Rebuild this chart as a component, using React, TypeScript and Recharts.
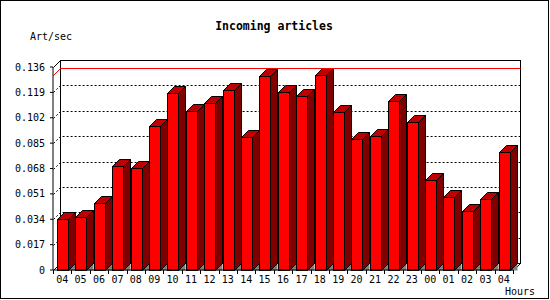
import { BarChart, Bar, XAxis, YAxis, CartesianGrid, ReferenceLine } from "recharts";

// hour of day, oldest first (the first and last "04" are different days)
const hours = [
  "04", "05", "06", "07", "08", "09", "10", "11", "12", "13", "14", "15", "16",
  "17", "18", "19", "20", "21", "22", "23", "00", "01", "02", "03", "04"
];

// incoming articles per second
const artPerSec = [
  0.034, 0.0353, 0.0447, 0.0695, 0.0681, 0.0963, 0.1184, 0.1063, 0.1117, 0.1204,
  0.0889, 0.13, 0.119, 0.1164, 0.1306, 0.1056, 0.0876, 0.0896, 0.113, 0.0989,
  0.0601, 0.0487, 0.0393, 0.0474, 0.0789
];

const yTicks = [0, 0.017, 0.034, 0.051, 0.068, 0.085, 0.102, 0.119, 0.136];

const DEPTH = 7;
const FONT = "'DejaVu Sans Mono', monospace";

const data = hours.map((hour, i) => ({ slot: i, hour, rate: artPerSec[i] }));
const peak = Math.max(...artPerSec);

const px = (v: number) => Math.round(v) + 0.5;

function Bar3D(props: any) {
  const { x, y, width, height } = props;
  if (x == null || width == null || height == null) return null;
  const d = DEPTH;
  const l = px(x);
  const r = px(x + width);
  const t = px(y);
  const b = px(y + height);
  return (
    <g stroke="#000" strokeWidth={1}>
      <polygon points={`${r},${b} ${r + d},${b - d} ${r + d},${b}`} fill="#808080" stroke="none" />
      <polygon points={`${r},${t} ${r + d},${t - d} ${r + d},${b - d} ${r},${b}`} fill="#800000" />
      <polygon points={`${l},${t} ${l + d},${t - d} ${r + d},${t - d} ${r},${t}`} fill="#c00000" />
      <rect x={l} y={t} width={r - l} height={b - t} fill="#ff0000" />
    </g>
  );
}

// back wall, floor edges and dotted grid, all pushed back by DEPTH
function gridLine(p: any) {
  const { x, y, width, height, y1, index } = p;
  const d = DEPTH;
  const L = px(x);
  const R = px(x + width);
  const T = px(y);
  const B = px(y + height);
  const yy = px(y1);
  const edge = Math.abs(y1 - y) < 1 || Math.abs(y1 - (y + height)) < 1;
  return (
    <g key={`g-${index}`}>
      {index === 0 ? (
        <g stroke="#000" strokeWidth={1} fill="none">
          <rect x={L + d} y={T - d} width={R - L} height={B - T} fill="#fff" />
          <line x1={L} y1={T} x2={L + d} y2={T - d} />
          <line x1={L} y1={B} x2={L + d} y2={B - d} />
          <line x1={R} y1={B} x2={R + d} y2={B - d} />
        </g>
      ) : null}
      {!edge ? (
        <polyline
          points={`${L},${yy} ${L + d},${yy - d} ${R + d},${yy - d}`}
          fill="none"
          stroke="#000"
          strokeWidth={1}
          strokeDasharray="2 2"
        />
      ) : null}
    </g>
  );
}

function PeakLine(p: any) {
  const { x1, x2, y1 } = p;
  const d = DEPTH;
  const L = px(x1);
  const R = px(x2);
  const yy = px(y1);
  return (
    <polyline
      points={`${L},${yy} ${L + d},${yy - d} ${R + d},${yy - d}`}
      fill="none"
      stroke="#ff0000"
      strokeWidth={1}
    />
  );
}

function HourTick(props: any) {
  const { x, y, payload, index, width } = props;
  const step = width / hours.length;
  const left = px(x - step / 2);
  const right = px(x + step / 2);
  return (
    <g>
      <line x1={left} y1={y} x2={left} y2={y + 4} stroke="#000" />
      {index === hours.length - 1 ? (
        <line x1={right} y1={y} x2={right} y2={y + 4} stroke="#000" />
      ) : null}
      <text x={x} y={y + 13} textAnchor="middle" fontFamily={FONT} fontSize={10} fill="#000">
        {payload.value}
      </text>
    </g>
  );
}

export default function App() {
  return (
    <div style={{ position: "relative", width: 550, height: 300, background: "#fff" }}>
      <style>{`body{margin:0}`}</style>
      <BarChart
        width={550}
        height={300}
        data={data}
        barSize={11}
        margin={{ top: 67, right: 37, bottom: 0, left: 0 }}
      >
        <CartesianGrid vertical={false} horizontal={gridLine} />
        <XAxis
          dataKey="hour"
          interval={0}
          height={30}
          tickLine={false}
          tickSize={0}
          tickMargin={0}
          axisLine={{ stroke: "#000" }}
          tick={<HourTick />}
        />
        <YAxis
          width={53}
          domain={[0, 0.136]}
          ticks={yTicks}
          interval={0}
          tickSize={3}
          tickMargin={5}
          tickLine={{ stroke: "#000" }}
          axisLine={{ stroke: "#000" }}
          tickFormatter={(v: number) => (v === 0 ? "0" : v.toFixed(3))}
          tick={{ fill: "#000", fontSize: 10, fontFamily: FONT }}
        />
        <ReferenceLine y={peak} shape={PeakLine} />
        <Bar dataKey="rate" shape={Bar3D} isAnimationActive={false} />
      </BarChart>
      <svg
        width={550}
        height={300}
        style={{ position: "absolute", left: 0, top: 0, pointerEvents: "none" }}
      >
        <rect x={0.5} y={0.5} width={548} height={298} fill="none" stroke="#000" />
        <text x={274} y={30} textAnchor="middle" fontFamily={FONT} fontSize={11.5} fontWeight="bold" fill="#000">
          Incoming articles
        </text>
        <text x={30} y={40} fontFamily={FONT} fontSize={10} fill="#000">
          Art/sec
        </text>
        <text x={505} y={295} fontFamily={FONT} fontSize={10} fill="#000">
          Hours
        </text>
      </svg>
    </div>
  );
}
